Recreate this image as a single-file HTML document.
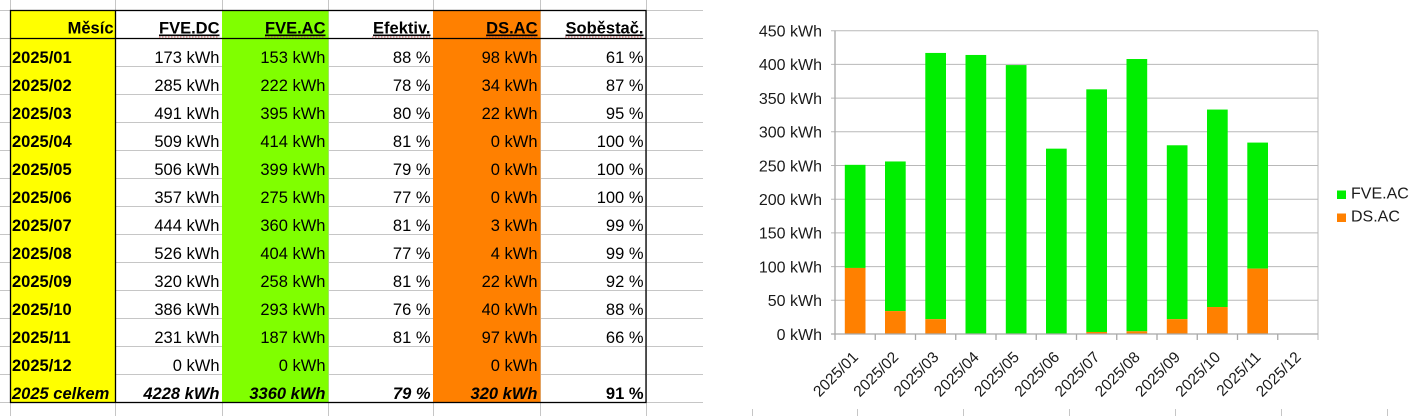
<!DOCTYPE html>
<html><head><meta charset="utf-8"><style>
html,body{margin:0;padding:0;background:#fff;}
svg{display:block;font-family:"Liberation Sans",Arial,sans-serif;}
.t{font-size:16.5px;fill:#000;}
.b{font-weight:bold;}
.bi{font-weight:bold;font-style:italic;}
.ax{font-size:16px;fill:#1a1a1a;}
</style></head><body>
<svg width="1419" height="416" viewBox="0 0 1419 416" xmlns="http://www.w3.org/2000/svg">
<rect x="0" y="0" width="1419" height="416" fill="#fff"/>
<!-- sheet gridlines -->
<g stroke="#c6c6c6" stroke-width="1">
<line x1="0" y1="10.5" x2="703" y2="10.5"/><line x1="0" y1="38.5" x2="703" y2="38.5"/>
<line x1="0" y1="66.5" x2="703" y2="66.5"/><line x1="0" y1="94.5" x2="703" y2="94.5"/>
<line x1="0" y1="122.5" x2="703" y2="122.5"/><line x1="0" y1="150.5" x2="703" y2="150.5"/>
<line x1="0" y1="178.5" x2="703" y2="178.5"/><line x1="0" y1="206.5" x2="703" y2="206.5"/>
<line x1="0" y1="234.5" x2="703" y2="234.5"/><line x1="0" y1="262.5" x2="703" y2="262.5"/>
<line x1="0" y1="290.5" x2="703" y2="290.5"/><line x1="0" y1="318.5" x2="703" y2="318.5"/>
<line x1="0" y1="346.5" x2="703" y2="346.5"/><line x1="0" y1="374.5" x2="703" y2="374.5"/>
<line x1="0" y1="402.5" x2="703" y2="402.5"/>
<line x1="10.5" y1="0" x2="10.5" y2="416"/><line x1="115.5" y1="0" x2="115.5" y2="416"/>
<line x1="222.5" y1="0" x2="222.5" y2="416"/><line x1="328.5" y1="0" x2="328.5" y2="416"/>
<line x1="433.5" y1="0" x2="433.5" y2="416"/><line x1="540.5" y1="0" x2="540.5" y2="416"/>
<line x1="646.5" y1="0" x2="646.5" y2="416"/>
<line x1="752.5" y1="0" x2="752.5" y2="416"/><line x1="857.5" y1="0" x2="857.5" y2="416"/>
<line x1="963.5" y1="0" x2="963.5" y2="416"/><line x1="1069.5" y1="0" x2="1069.5" y2="416"/>
<line x1="1175.5" y1="0" x2="1175.5" y2="416"/><line x1="1281.5" y1="0" x2="1281.5" y2="416"/>
<line x1="1387.5" y1="0" x2="1387.5" y2="416"/>
</g>
<!-- colored columns -->
<rect x="10" y="10" width="105.5" height="392.5" fill="#ffff00"/>
<rect x="222" y="10" width="106.5" height="392.5" fill="#80ff00"/>
<rect x="433" y="10" width="107.5" height="392.5" fill="#ff8000"/>
<!-- black borders -->
<g stroke="#000" stroke-width="1.3" fill="none">
<rect x="10.5" y="10.5" width="635.5" height="392"/>
<line x1="10" y1="38.5" x2="646" y2="38.5"/>
<line x1="115.5" y1="10" x2="115.5" y2="402.5"/>
</g>
<!-- header -->
<g class="t b">
<text x="113.5" y="33.5" text-anchor="end">Měsíc</text>
<text x="219.5" y="33.5" text-anchor="end" style="text-decoration:underline">FVE.DC</text>
<text x="325.5" y="33.5" text-anchor="end" style="text-decoration:underline">FVE.AC</text>
<text x="430.5" y="33.5" text-anchor="end" style="text-decoration:underline">Efektiv.</text>
<text x="537.5" y="33.5" text-anchor="end" style="text-decoration:underline">DS.AC</text>
<text x="643.5" y="33.5" text-anchor="end" style="text-decoration:underline">Soběstač.</text>
</g>
<g stroke="#d04040" stroke-width="1" stroke-dasharray="1.5 1.5" opacity="0.8">
<line x1="159" y1="37" x2="219" y2="37"/>
<line x1="265" y1="37" x2="325" y2="37"/>
<line x1="372" y1="37" x2="430" y2="37"/>
<line x1="486" y1="37" x2="537" y2="37"/>
<line x1="565" y1="37" x2="643" y2="37"/>
</g>
<!-- data rows -->
<g class="t">
<text class="b" x="12" y="63">2025/01</text><text x="219.5" y="63" text-anchor="end">173 kWh</text><text x="325.5" y="63" text-anchor="end">153 kWh</text><text x="430.5" y="63" text-anchor="end">88 %</text><text x="537.5" y="63" text-anchor="end">98 kWh</text><text x="643.5" y="63" text-anchor="end">61 %</text>
<text class="b" x="12" y="91">2025/02</text><text x="219.5" y="91" text-anchor="end">285 kWh</text><text x="325.5" y="91" text-anchor="end">222 kWh</text><text x="430.5" y="91" text-anchor="end">78 %</text><text x="537.5" y="91" text-anchor="end">34 kWh</text><text x="643.5" y="91" text-anchor="end">87 %</text>
<text class="b" x="12" y="119">2025/03</text><text x="219.5" y="119" text-anchor="end">491 kWh</text><text x="325.5" y="119" text-anchor="end">395 kWh</text><text x="430.5" y="119" text-anchor="end">80 %</text><text x="537.5" y="119" text-anchor="end">22 kWh</text><text x="643.5" y="119" text-anchor="end">95 %</text>
<text class="b" x="12" y="147">2025/04</text><text x="219.5" y="147" text-anchor="end">509 kWh</text><text x="325.5" y="147" text-anchor="end">414 kWh</text><text x="430.5" y="147" text-anchor="end">81 %</text><text x="537.5" y="147" text-anchor="end">0 kWh</text><text x="643.5" y="147" text-anchor="end">100 %</text>
<text class="b" x="12" y="175">2025/05</text><text x="219.5" y="175" text-anchor="end">506 kWh</text><text x="325.5" y="175" text-anchor="end">399 kWh</text><text x="430.5" y="175" text-anchor="end">79 %</text><text x="537.5" y="175" text-anchor="end">0 kWh</text><text x="643.5" y="175" text-anchor="end">100 %</text>
<text class="b" x="12" y="203">2025/06</text><text x="219.5" y="203" text-anchor="end">357 kWh</text><text x="325.5" y="203" text-anchor="end">275 kWh</text><text x="430.5" y="203" text-anchor="end">77 %</text><text x="537.5" y="203" text-anchor="end">0 kWh</text><text x="643.5" y="203" text-anchor="end">100 %</text>
<text class="b" x="12" y="231">2025/07</text><text x="219.5" y="231" text-anchor="end">444 kWh</text><text x="325.5" y="231" text-anchor="end">360 kWh</text><text x="430.5" y="231" text-anchor="end">81 %</text><text x="537.5" y="231" text-anchor="end">3 kWh</text><text x="643.5" y="231" text-anchor="end">99 %</text>
<text class="b" x="12" y="259">2025/08</text><text x="219.5" y="259" text-anchor="end">526 kWh</text><text x="325.5" y="259" text-anchor="end">404 kWh</text><text x="430.5" y="259" text-anchor="end">77 %</text><text x="537.5" y="259" text-anchor="end">4 kWh</text><text x="643.5" y="259" text-anchor="end">99 %</text>
<text class="b" x="12" y="287">2025/09</text><text x="219.5" y="287" text-anchor="end">320 kWh</text><text x="325.5" y="287" text-anchor="end">258 kWh</text><text x="430.5" y="287" text-anchor="end">81 %</text><text x="537.5" y="287" text-anchor="end">22 kWh</text><text x="643.5" y="287" text-anchor="end">92 %</text>
<text class="b" x="12" y="315">2025/10</text><text x="219.5" y="315" text-anchor="end">386 kWh</text><text x="325.5" y="315" text-anchor="end">293 kWh</text><text x="430.5" y="315" text-anchor="end">76 %</text><text x="537.5" y="315" text-anchor="end">40 kWh</text><text x="643.5" y="315" text-anchor="end">88 %</text>
<text class="b" x="12" y="343">2025/11</text><text x="219.5" y="343" text-anchor="end">231 kWh</text><text x="325.5" y="343" text-anchor="end">187 kWh</text><text x="430.5" y="343" text-anchor="end">81 %</text><text x="537.5" y="343" text-anchor="end">97 kWh</text><text x="643.5" y="343" text-anchor="end">66 %</text>
<text class="b" x="12" y="371">2025/12</text><text x="219.5" y="371" text-anchor="end">0 kWh</text><text x="325.5" y="371" text-anchor="end">0 kWh</text><text x="537.5" y="371" text-anchor="end">0 kWh</text>
<text class="bi" x="12" y="399">2025 celkem</text><text class="bi" x="219.5" y="399" text-anchor="end">4228 kWh</text><text class="bi" x="325.5" y="399" text-anchor="end">3360 kWh</text><text class="bi" x="430.5" y="399" text-anchor="end">79 %</text><text class="bi" x="537.5" y="399" text-anchor="end">320 kWh</text><text class="b" x="643.5" y="399" text-anchor="end">91 %</text>
</g>
<!-- chart area -->
<rect x="703" y="0" width="716" height="409" fill="#fff"/>
<g stroke="#b8b8b8" stroke-width="1">
<line x1="831" y1="30.7" x2="1318" y2="30.7"/>
<line x1="831" y1="64.4" x2="1318" y2="64.4"/>
<line x1="831" y1="98.1" x2="1318" y2="98.1"/>
<line x1="831" y1="131.8" x2="1318" y2="131.8"/>
<line x1="831" y1="165.5" x2="1318" y2="165.5"/>
<line x1="831" y1="199.2" x2="1318" y2="199.2"/>
<line x1="831" y1="232.9" x2="1318" y2="232.9"/>
<line x1="831" y1="266.6" x2="1318" y2="266.6"/>
<line x1="831" y1="300.3" x2="1318" y2="300.3"/>
<line x1="1318" y1="30.7" x2="1318" y2="340"/>
</g>
<!-- bars -->
<g>
<rect x="844.8" y="164.83" width="20.7" height="103.12" fill="#00ee00"/><rect x="844.8" y="267.95" width="20.7" height="66.05" fill="#ff8000"/>
<rect x="885.0" y="161.46" width="20.7" height="149.62" fill="#00ee00"/><rect x="885.0" y="311.08" width="20.7" height="22.92" fill="#ff8000"/>
<rect x="925.3" y="52.94" width="20.7" height="266.23" fill="#00ee00"/><rect x="925.3" y="319.17" width="20.7" height="14.83" fill="#ff8000"/>
<rect x="965.5" y="54.96" width="20.7" height="279.04" fill="#00ee00"/>
<rect x="1005.8" y="65.07" width="20.7" height="268.93" fill="#00ee00"/>
<rect x="1046.0" y="148.65" width="20.7" height="185.35" fill="#00ee00"/>
<rect x="1086.3" y="89.34" width="20.7" height="242.64" fill="#00ee00"/><rect x="1086.3" y="331.98" width="20.7" height="2.02" fill="#ff8000"/>
<rect x="1126.5" y="59.01" width="20.7" height="272.29" fill="#00ee00"/><rect x="1126.5" y="331.3" width="20.7" height="2.7" fill="#ff8000"/>
<rect x="1166.8" y="145.28" width="20.7" height="173.89" fill="#00ee00"/><rect x="1166.8" y="319.17" width="20.7" height="14.83" fill="#ff8000"/>
<rect x="1207.0" y="109.56" width="20.7" height="197.48" fill="#00ee00"/><rect x="1207.0" y="307.04" width="20.7" height="26.96" fill="#ff8000"/>
<rect x="1247.3" y="142.58" width="20.7" height="126.04" fill="#00ee00"/><rect x="1247.3" y="268.62" width="20.7" height="65.38" fill="#ff8000"/>
</g>
<!-- axes -->
<g stroke="#a8a8a8" stroke-width="1.3">
<line x1="835" y1="30.7" x2="835" y2="340"/>
<line x1="831" y1="334" x2="1318" y2="334"/>
<line x1="875.25" y1="334" x2="875.25" y2="340"/><line x1="915.5" y1="334" x2="915.5" y2="340"/>
<line x1="955.75" y1="334" x2="955.75" y2="340"/><line x1="996" y1="334" x2="996" y2="340"/>
<line x1="1036.25" y1="334" x2="1036.25" y2="340"/><line x1="1076.5" y1="334" x2="1076.5" y2="340"/>
<line x1="1116.75" y1="334" x2="1116.75" y2="340"/><line x1="1157" y1="334" x2="1157" y2="340"/>
<line x1="1197.25" y1="334" x2="1197.25" y2="340"/><line x1="1237.5" y1="334" x2="1237.5" y2="340"/>
<line x1="1277.75" y1="334" x2="1277.75" y2="340"/>
</g>
<!-- y labels -->
<g class="ax" text-anchor="end">
<text x="822" y="36.5">450 kWh</text>
<text x="822" y="70.2">400 kWh</text>
<text x="822" y="103.9">350 kWh</text>
<text x="822" y="137.6">300 kWh</text>
<text x="822" y="171.3">250 kWh</text>
<text x="822" y="205">200 kWh</text>
<text x="822" y="238.7">150 kWh</text>
<text x="822" y="272.4">100 kWh</text>
<text x="822" y="306.1">50 kWh</text>
<text x="822" y="339.8">0 kWh</text>
</g>
<!-- x labels -->
<g class="ax" text-anchor="end" style="font-size:15.5px">
<text transform="translate(859.1,358) rotate(-45)">2025/01</text>
<text transform="translate(899.4,358) rotate(-45)">2025/02</text>
<text transform="translate(939.6,358) rotate(-45)">2025/03</text>
<text transform="translate(979.9,358) rotate(-45)">2025/04</text>
<text transform="translate(1020.1,358) rotate(-45)">2025/05</text>
<text transform="translate(1060.4,358) rotate(-45)">2025/06</text>
<text transform="translate(1100.6,358) rotate(-45)">2025/07</text>
<text transform="translate(1140.9,358) rotate(-45)">2025/08</text>
<text transform="translate(1181.1,358) rotate(-45)">2025/09</text>
<text transform="translate(1221.4,358) rotate(-45)">2025/10</text>
<text transform="translate(1261.6,358) rotate(-45)">2025/11</text>
<text transform="translate(1301.9,358) rotate(-45)">2025/12</text>
</g>
<!-- legend -->
<rect x="1337" y="190.5" width="9" height="8.5" fill="#00ee00"/>
<text class="ax" x="1351" y="198.5">FVE.AC</text>
<rect x="1337" y="213.5" width="9" height="8.5" fill="#ff8000"/>
<text class="ax" x="1351" y="221.5">DS.AC</text>
</svg>
</body></html>
